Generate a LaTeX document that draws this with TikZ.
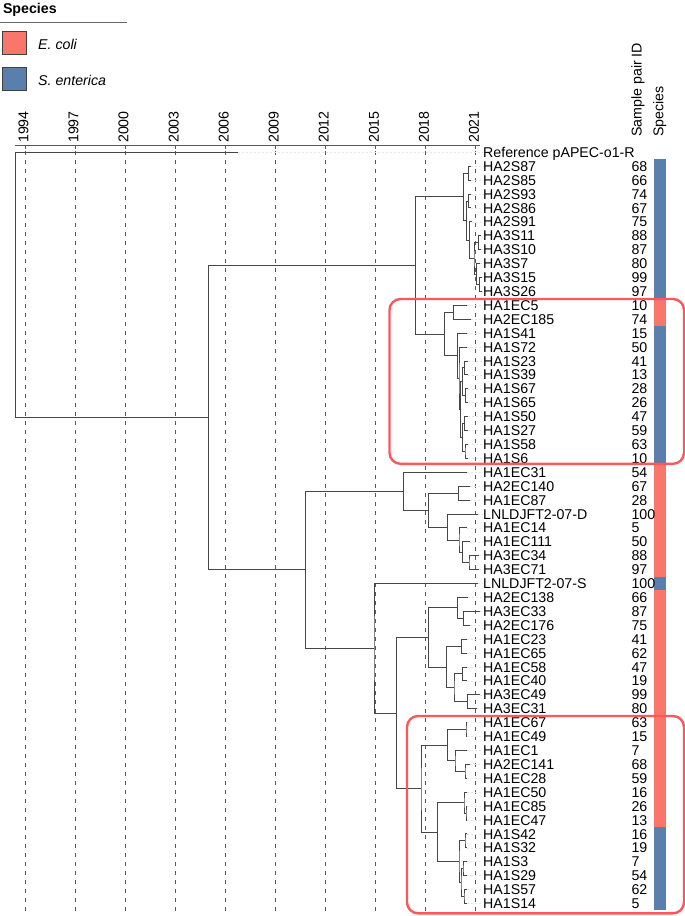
\documentclass[tikz,border=0pt]{standalone}
\usepackage{fontspec}
\setmainfont{Liberation Sans}
\usetikzlibrary{calc}
\definecolor{ecoli}{RGB}{250,118,106}
\definecolor{sent}{RGB}{90,127,173}
\definecolor{yrline}{RGB}{40,98,150}
\definecolor{treecol}{RGB}{70,70,70}
\definecolor{boxred}{RGB}{250,88,90}
\newcommand{\lblfont}{\fontsize{14.2}{16}\selectfont}
\newcommand{\innode}[4]{\path let \p1=(#3), \p2=(#4) in ({#2pt},{0.5*\y1+0.5*\y2}) coordinate (#1);}
\newcommand{\edges}[3]{\draw[tree] (#2) -| (#1) |- (#3);}
\tikzset{
  tree/.style={draw=treecol, line width=0.9pt},
  leader/.style={draw=black!10, line width=0.5pt, dash pattern=on 2pt off 2pt},
  lab/.style={font=\lblfont, anchor=west, inner sep=0pt, text height=10.2pt, text depth=0pt},
  yearlab/.style={font=\lblfont, rotate=90, anchor=base west, inner sep=0pt},
  yrdash/.style={draw=yrline, line width=0.8pt, dash pattern=on 4pt off 5pt},
  legbox/.style={draw=black!75, line width=0.6pt, minimum width=24pt, minimum height=23.3pt, inner sep=0pt},
  redbox/.style={draw=boxred, line width=2.4pt, rounded corners=11pt},
}
\begin{document}
\begin{tikzpicture}[x=1pt,y=-1pt]
\useasboundingbox (0,0) rectangle (685,916);

% legend
\node[font=\lblfont\bfseries, anchor=base west, inner sep=0pt] (legt) at (2.8,13.3) {Species};
\draw[draw=black!60, line width=0.8pt] (0,22.7) -- (126.7,22.7);
\node[legbox, fill=ecoli] (kE) at (14.7,42.7) {};
\node[legbox, fill=sent] (kS) at (14.7,78.7) {};
\node[font=\lblfont\itshape, anchor=base west, inner sep=0pt] (tE) at (38,49.3) {E. coli};
\node[font=\lblfont\itshape, anchor=base west, inner sep=0pt] (tS) at (38,85) {S. enterica};

% column headers
\node[yearlab] (hS) at (641.7,137) {Sample pair ID};
\node[yearlab] (hP) at (663.3,137) {Species};

% time axis
\draw[draw=black!65, line width=0.9pt] (15,145) -- (480,145);
\foreach \k/\yr in {0/1994,1/1997,2/2000,3/2003,4/2006,5/2009,6/2012,7/2015,8/2018,9/2021}{
  \draw[yrdash] ({25+50.07*\k},151) -- ({25+50.07*\k},912);
  \draw[draw=black!65, line width=0.9pt] ({25+50.07*\k},145) -- ({25+50.07*\k},149);
  \node[yearlab] (y\yr) at ({28.3+50.07*\k},143) {\yr};
}

% species bar
\fill[sent]  (654,159.25) rectangle (666,298.36);
\fill[ecoli] (654,298.36) rectangle (666,326.18);
\fill[sent]  (654,326.18) rectangle (666,465.28);
\fill[ecoli] (654,465.28) rectangle (666,576.56);
\fill[sent]  (654,576.56) rectangle (666,590.47);
\fill[ecoli] (654,590.47) rectangle (666,826.94);
\fill[sent]  (654,826.94) rectangle (666,910.4);

% leaves
\coordinate (r1) at (237.7,152.3);
\node[lab] (l1) at (483,152.3) {Reference pAPEC-o1-R};
\draw[leader] (r1) -- (l1.west);
\foreach \i/\lab/\num/\tx in {
 2/HA2S87/68/470.7, 3/HA2S85/66/470.7, 4/HA2S93/74/470.5, 5/HA2S86/67/471,
 6/HA2S91/75/472, 7/HA3S11/88/481, 8/HA3S10/87/481, 9/HA3S7/80/479.5,
 10/HA3S15/99/481.5, 11/HA3S26/97/481.5, 12/HA1EC5/10/467.3, 13/HA2EC185/74/470.7,
 14/HA1S41/15/467.3, 15/HA1S72/50/467.3, 16/HA1S23/41/467.5, 17/HA1S39/13/467.5,
 18/HA1S67/28/467.5, 19/HA1S65/26/467.5, 20/HA1S50/47/467.5, 21/HA1S27/59/467.5,
 22/HA1S58/63/467.5, 23/HA1S6/10/467.5, 24/HA1EC31/54/467.3, 25/HA2EC140/67/470,
 26/HA1EC87/28/470, 27/LNLDJFT2-07-D/100/478.3, 28/HA1EC14/5/467.3, 29/HA1EC111/50/470,
 30/HA3EC34/88/479, 31/HA3EC71/97/479, 32/LNLDJFT2-07-S/100/477.5, 33/HA2EC138/66/468.3,
 34/HA3EC33/87/480, 35/HA2EC176/75/470, 36/HA1EC23/41/467.3, 37/HA1EC65/62/467.3,
 38/HA1EC58/47/467.3, 39/HA1EC40/19/467.3, 40/HA3EC49/99/480, 41/HA3EC31/80/477,
 42/HA1EC67/63/467.3, 43/HA1EC49/15/467.3, 44/HA1EC1/7/467.3, 45/HA2EC141/68/470,
 46/HA1EC28/59/467.3, 47/HA1EC50/16/467, 48/HA1EC85/26/467.3, 49/HA1EC47/13/467.3,
 50/HA1S42/16/467.3, 51/HA1S32/19/467.3, 52/HA1S3/7/467.3, 53/HA1S29/54/467.3,
 54/HA1S57/62/467.3, 55/HA1S14/5/467.3}{
  \coordinate (r\i) at (\tx,{152.3+13.91*(\i-1)});
  \node[lab] (l\i) at (483,{152.3+13.91*(\i-1)}) {\lab};
  \node[lab] (n\i) at (631.3,{152.3+13.91*(\i-1)}) {\num};
  \draw[leader] (r\i) -- (l\i.west);
}

% internal nodes
\innode{A}{468.3}{r2}{r3}
\innode{D}{468.3}{r4}{r5}
\innode{G}{478.3}{r7}{r8}
\innode{I}{479.3}{r10}{r11}
\innode{H}{476.7}{r9}{I}
\innode{F}{474}{G}{H}
\innode{E}{469.3}{r6}{F}
\innode{C}{466.7}{D}{E}
\innode{B}{463.3}{A}{C}
\innode{K}{453.3}{r12}{r13}
\innode{P1}{464.7}{r16}{r17}
\innode{P2}{465.3}{r18}{r19}
\innode{P}{462.5}{P1}{P2}
\innode{Q1}{464.3}{r20}{r21}
\innode{Q2}{465}{r22}{r23}
\innode{Q}{462.5}{Q1}{Q2}
\innode{N}{460.5}{P}{Q}
\innode{M}{459}{r15}{N}
\innode{L}{457.3}{r14}{M}
\innode{J}{444.3}{K}{L}
\innode{DD}{415.7}{B}{J}
\innode{T}{458.3}{r25}{r26}
\innode{X}{469}{r30}{r31}
\innode{W}{462.7}{r29}{X}
\innode{V}{459}{r28}{W}
\innode{U}{447.3}{r27}{V}
\innode{S}{428.3}{T}{U}
\innode{R}{403.3}{r24}{S}
\innode{AC}{463.3}{r34}{r35}
\innode{AB}{457.3}{r33}{AC}
\innode{AE}{461.7}{r36}{r37}
\innode{AG}{462.7}{r38}{r39}
\innode{AH}{467.3}{r40}{r41}
\innode{AF}{454}{AG}{AH}
\innode{AD}{446.7}{AE}{AF}
\innode{AA}{428.3}{AB}{AD}
\innode{AK}{466}{r42}{r43}
\innode{AM}{465}{r45}{r46}
\innode{AL}{455}{r44}{AM}
\innode{AJ}{447.3}{AK}{AL}
\innode{AP}{466}{r48}{r49}
\innode{AO}{464}{r47}{AP}
\innode{AR}{465}{r50}{r51}
\innode{AT}{463}{r52}{r53}
\innode{AU}{464}{r54}{r55}
\innode{AS}{461}{AT}{AU}
\innode{AQ}{459}{AR}{AS}
\innode{AN}{437.3}{AO}{AQ}
\innode{AI}{421}{AJ}{AN}
\innode{Z}{396.5}{AA}{AI}
\innode{Y}{374}{r32}{Z}
\innode{BB}{305.3}{R}{Y}
\innode{CC}{208.3}{DD}{BB}
\innode{ROOT}{15.7}{r1}{CC}

% edges
\edges{A}{r2}{r3}
\edges{D}{r4}{r5}
\edges{G}{r7}{r8}
\edges{I}{r10}{r11}
\edges{H}{r9}{I}
\edges{F}{G}{H}
\edges{E}{r6}{F}
\edges{C}{D}{E}
\edges{B}{A}{C}
\edges{K}{r12}{r13}
\edges{P1}{r16}{r17}
\edges{P2}{r18}{r19}
\edges{P}{P1}{P2}
\edges{Q1}{r20}{r21}
\edges{Q2}{r22}{r23}
\edges{Q}{Q1}{Q2}
\edges{N}{P}{Q}
\edges{M}{r15}{N}
\edges{L}{r14}{M}
\edges{J}{K}{L}
\edges{DD}{B}{J}
\edges{T}{r25}{r26}
\edges{X}{r30}{r31}
\edges{W}{r29}{X}
\edges{V}{r28}{W}
\edges{U}{r27}{V}
\edges{S}{T}{U}
\edges{R}{r24}{S}
\edges{AC}{r34}{r35}
\edges{AB}{r33}{AC}
\edges{AE}{r36}{r37}
\edges{AG}{r38}{r39}
\edges{AH}{r40}{r41}
\edges{AF}{AG}{AH}
\edges{AD}{AE}{AF}
\edges{AA}{AB}{AD}
\edges{AK}{r42}{r43}
\edges{AM}{r45}{r46}
\edges{AL}{r44}{AM}
\edges{AJ}{AK}{AL}
\edges{AP}{r48}{r49}
\edges{AO}{r47}{AP}
\edges{AR}{r50}{r51}
\edges{AT}{r52}{r53}
\edges{AU}{r54}{r55}
\edges{AS}{AT}{AU}
\edges{AQ}{AR}{AS}
\edges{AN}{AO}{AQ}
\edges{AI}{AJ}{AN}
\edges{Z}{AA}{AI}
\edges{Y}{r32}{Z}
\edges{BB}{R}{Y}
\edges{CC}{DD}{BB}
\edges{ROOT}{r1}{CC}

% highlight boxes
\draw[redbox] (389.5,299) rectangle (684,463.8);
\draw[redbox] (407,716) rectangle (684,913.3);
\end{tikzpicture}
\end{document}
